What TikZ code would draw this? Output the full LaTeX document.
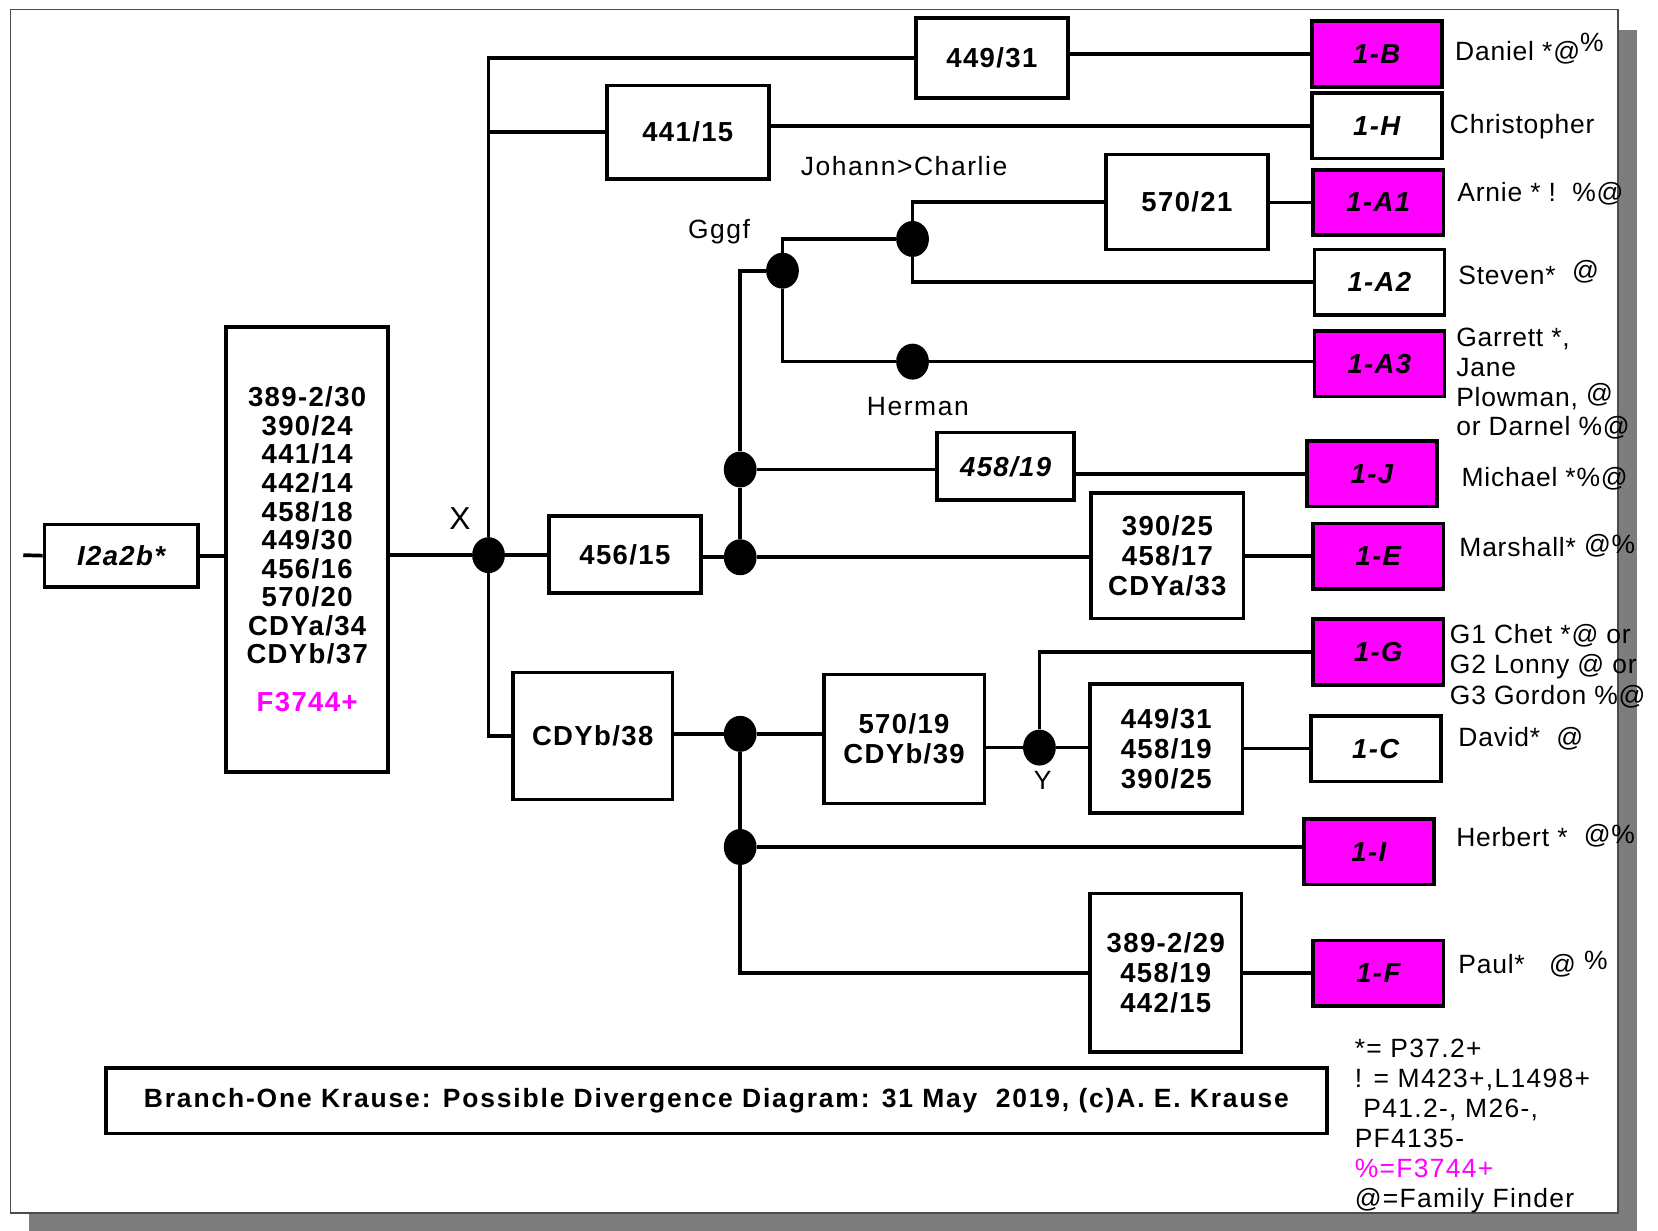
\documentclass[tikz,border=0pt]{standalone}
\usepackage{fontspec}
\setmainfont{Liberation Sans}
\usepackage{tikz}
\usetikzlibrary{shapes.geometric}

\definecolor{mag}{RGB}{255,0,255}
\definecolor{framegray}{RGB}{125,125,125}

\newcommand{\spaced}[1][5]{\addfontfeature{LetterSpace=#1}}
\newcommand{\raised}[2][5pt]{\raisebox{#1}{#2}}

\begin{document}
\begin{tikzpicture}[x=1pt,y=-1pt,
    line/.style={line width=3.5pt},
    mbox/.style={draw, line width=3.5pt, fill=white, inner sep=0pt, align=center,
      font=\fontsize{26}{28.5}\selectfont\bfseries\spaced},
    leaf/.style={mbox, minimum width=123pt, minimum height=62pt,
      font=\fontsize{26}{28}\selectfont\bfseries\itshape\spaced},
    dot/.style={ellipse, fill=black, minimum width=31pt, minimum height=34pt, inner sep=0pt},
    tag/.style={inner sep=0pt, font=\fontsize{25}{28}\selectfont\spaced[6]},
    who/.style={anchor=west, inner sep=0pt, align=left, font=\fontsize{25}{28}\selectfont\spaced[3]}]

\useasboundingbox (0,0) rectangle (1568,1164);
\fill[framegray] (1530,28) rectangle (1548,1164);
\fill[framegray] (27,1147) rectangle (1548,1164);
\draw[line width=1.5pt, black!70] (10,9) rectangle (1530,1147);

% marker boxes
\coordinate (lead) at (22,525);
\node[mbox, minimum width=145pt, minimum height=59pt,
  font=\fontsize{26}{28}\selectfont\bfseries\itshape\spaced] (start) at (114.5,525.5) {I2a2b*};
\node[mbox, minimum width=153pt, minimum height=421pt,
  font=\fontsize{26}{27}\selectfont\bfseries\spaced] (root) at (290.5,519.5)
  {389-2/30\\390/24\\441/14\\442/14\\458/18\\449/30\\456/16\\570/20\\CDYa/34\\CDYb/37\\[18pt]\textcolor{mag}{F3744+}};
\node[mbox, minimum width=144pt, minimum height=76pt] (m449top) at (938,55) {449/31};
\node[mbox, minimum width=153pt, minimum height=88pt] (m441) at (650.5,125) {441/15};
\node[mbox, minimum width=153pt, minimum height=90pt] (m570a) at (1122.5,191) {570/21};
\node[mbox, minimum width=130pt, minimum height=64pt,
  font=\fontsize{26}{28}\selectfont\bfseries\itshape\spaced] (m458) at (951,441) {458/19};
\node[mbox, minimum width=144pt, minimum height=73pt] (m456) at (591,524.5) {456/15};
\node[mbox, minimum width=144pt, minimum height=119pt] (m390) at (1104,525.5) {390/25\\458/17\\CDYa/33};
\node[mbox, minimum width=151pt, minimum height=120pt] (mcdyb) at (560.5,696) {CDYb/38};
\node[mbox, minimum width=152pt, minimum height=122pt] (m570b) at (855,699) {570/19\\CDYb/39};
\node[mbox, minimum width=144pt, minimum height=122pt] (m449low) at (1103,708) {449/31\\458/19\\390/25};
\node[mbox, minimum width=143pt, minimum height=150pt] (m389) at (1102.5,920) {389-2/29\\458/19\\442/15};

% lineages
\foreach \n/\x/\y/\c in {B/1302/51/mag, H/1302/119/white, A1/1303.5/191.5/mag, A2/1304.5/267/white,
    A3/1304.5/344/mag, J/1297.5/448/mag, E/1303.5/526/mag, G/1303.5/616.5/mag,
    C/1301/708/white, I/1294.5/805.5/mag, F/1303.5/920.5/mag}
  \node[leaf, fill=\c] (l\n) at (\x,\y) {1-\n};

% branch points
\foreach \n/\x/\y in {X/462/525, Gggf/740/256, Johann/863/226, Herman/863/342,
    J/700/444, E/700/527, C/700/694, Y/983/707, I/700/801}
  \node[dot] (d\n) at (\x,\y) {};

\draw[line] (lead) -- (start.west);
\draw[line] (start.east) -- (start.east -| root.west);
\draw[line] (root.east |- dX) -- (dX);
\draw[line] (dX) |- (m449top.west);
\draw[line] (m449top.east |- lB) -- (lB.west);
\draw[line] (dX) |- (m441.west);
\draw[line] (m441.east |- lH) -- (lH.west);
\draw[line] (dX) -- (dX -| m456.west);
\draw[line] (m456.east |- dE) -- (dE) -- (dE -| m390.west);
\draw[line] (m390.east |- lE) -- (lE.west);
\draw[line] (dE) -- (dJ);
\draw[line] (dJ) -- (dJ -| m458.west);
\draw[line] (m458.east |- lJ) -- (lJ.west);
\draw[line] (dJ) |- (dGggf);
\draw[line] (dGggf) |- (dJohann);
\draw[line] (dJohann) |- (m570a.west);
\draw[line] (m570a.east |- lA1) -- (lA1.west);
\draw[line] (dJohann) |- (lA2.west);
\draw[line] (dGggf) |- (dHerman);
\draw[line] (dHerman) -- (dHerman -| lA3.west);
\draw[line] (dX) |- (mcdyb.west);
\draw[line] (mcdyb.east |- dC) -- (dC) -- (dC -| m570b.west);
\draw[line] (m570b.east |- dY) -- (dY) -- (dY -| m449low.west);
\draw[line] (m449low.east |- lC) -- (lC.west);
\draw[line] (dY) |- (lG.west);
\draw[line] (dC) -- (dI);
\draw[line] (dI) -- (dI -| lI.west);
\draw[line] (dI) |- (m389.west);
\draw[line] (m389.east |- lF) -- (lF.west);

% names on the tree
\node[tag, font=\fontsize{30}{30}\selectfont] (tX) at (435,490) {X};
\node[tag] (tGggf) at (680,219) {Gggf};
\node[tag] (tJohann) at (855,157) {Johann>Charlie};
\node[tag] (tHerman) at (868,384) {Herman};
\node[tag] (tY) at (986,738) {Y};

% testers
\node[who] (nDaniel) at (1376,46) {Daniel *@\raised[8pt]{\%}};
\node[who] (nChris) at (1371,120) {Christopher};
\node[who] (nArnie) at (1378,183) {Arnie * !\ \ \%@};
\node[who] (nSteven) at (1379,258) {Steven*\ \ \raised{@}};
\node[who] (nGarrett) at (1377,363) {Garrett *,\\Jane\\Plowman,\ \raised[3pt]{@}\\or Darnel \%@};
\node[who] (nMichael) at (1382,453) {Michael *\%@};
\node[who] (nMarshall) at (1380,516) {Marshall*\ \raised[3pt]{@\%}};
\node[who, font={\fontsize{25}{29}\selectfont\spaced[3]}] (nG) at (1371,630) {G1 Chet *@ or\\G2 Lonny @ or\\G3 Gordon \%@};
\node[who] (nDavid) at (1379,699) {David*\ \ @};
\node[who] (nHerbert) at (1377,790) {Herbert *\ \ \raised[3pt]{@\%}};
\node[who] (nPaul) at (1379,912) {Paul*\ \ \ @ \raised[4pt]{\%}};

\node[who, anchor=north west, font={\fontsize{25}{28.4}\selectfont\spaced[5]}] (key) at (1281,982)
  {*= P37.2+\\! = M423+,L1498+\\\ P41.2-, M26-,\\PF4135-\\\textcolor{mag}{\%=F3744+}\\@=Family Finder};

\node[mbox, minimum width=1155pt, minimum height=62pt,
  font={\fontsize{25}{28}\selectfont\bfseries\spaced[7]}] (caption) at (677.5,1041)
  {Branch-One Krause: Possible Divergence Diagram: 31 May\ \ 2019, (c)A. E. Krause};
\end{tikzpicture}
\end{document}
